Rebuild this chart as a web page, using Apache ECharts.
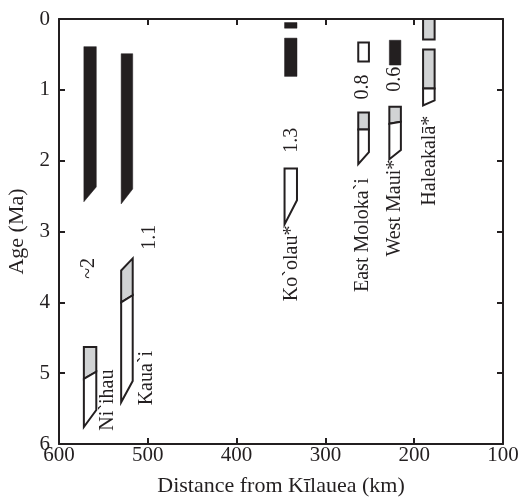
<!DOCTYPE html>
<html>
<head>
<meta charset="utf-8">
<script src="https://cdn.jsdelivr.net/npm/echarts@6/dist/echarts.min.js"></script>
<style>html,body{margin:0;padding:0;background:#fff;}#c{width:519px;height:499px;}</style>
</head>
<body>
<div id="c"></div>
<script>
// Volcanoes and their distance span (km from Kilauea)
const volcanoes = ['Ni`ihau', 'Kaua`i', 'Ko`olau*', 'East Moloka`i', 'West Maui*', 'Haleakalā*'];
const leftKm  = [572, 530, 346, 263, 228, 190];
const rightKm = [558, 517, 332, 251, 215, 177];

// Age segments: volcano index, top-left age, top-right age, bottom-left age, bottom-right age, fill
const segVolcano = [0, 0, 0, 1, 1, 1, 2, 2, 2, 3, 3, 3, 4, 4, 4, 5, 5, 5];
const segTopL = [0.39, 4.63, 5.08, 0.49, 3.55, 4.00, 0.05, 0.27, 2.11, 0.33, 1.32, 1.56, 0.30, 1.24, 1.48, 0.00, 0.43, 0.98];
const segTopR = [0.39, 4.63, 4.98, 0.49, 3.38, 3.90, 0.05, 0.27, 2.11, 0.33, 1.32, 1.56, 0.30, 1.24, 1.45, 0.00, 0.43, 0.98];
const segBotL = [2.58, 5.08, 5.76, 2.61, 4.00, 5.41, 0.13, 0.81, 2.90, 0.60, 1.56, 2.05, 0.65, 1.48, 1.98, 0.29, 0.98, 1.22];
const segBotR = [2.37, 4.98, 5.52, 2.40, 3.90, 5.11, 0.13, 0.81, 2.56, 0.60, 1.56, 1.88, 0.65, 1.45, 1.85, 0.29, 0.98, 1.15];
const segFill = ['black', 'gray', 'white', 'black', 'gray', 'white', 'black', 'black', 'white', 'white', 'gray', 'white', 'black', 'gray', 'white', 'gray', 'gray', 'white'];

// Annotations (text, anchor km, anchor age)
const noteText = ['~2', '1.1', 'Ni`ihau', 'Kaua`i', '1.3', 'Ko`olau*', 'East Moloka`i', '0.8', 'West Maui*', '0.6', 'Haleakalā*'];
const noteKm   = [567, 497.5, 545, 501, 337.6, 337.6, 257.7, 257.7, 221.6, 221.6, 182.2];
const noteAge  = [3.52, 3.08, 5.38, 5.07, 1.71, 3.45, 3.05, 0.96, 2.67, 0.85, 2.0];

// Axis tick values
const xTicks = [600, 500, 400, 300, 200, 100];
const yTicks = [0, 1, 2, 3, 4, 5, 6];

const INK = '#231f20';
const FONT = 'Liberation Serif';
const fills = { black: INK, gray: '#d1d3d4', white: '#ffffff' };

const chart = echarts.init(document.getElementById('c'), null, { renderer: 'canvas' });

const axisCommon = {
  axisLine: { show: true, onZero: false, lineStyle: { color: INK, width: 2 } },
  axisTick: { show: true, inside: true, length: 6, lineStyle: { color: INK, width: 2 } },
  splitLine: { show: false }
};

chart.setOption({
  animation: false,
  backgroundColor: '#fff',
  grid: { left: 59, right: 16, top: 19, bottom: 55, containLabel: false, outerBoundsMode: 'none' },
  xAxis: [
    Object.assign({
      type: 'value', position: 'bottom', min: xTicks[5], max: xTicks[0], interval: 100, inverse: true,
      name: 'Distance from Kīlauea (km)', nameLocation: 'middle', nameGap: 31,
      nameTextStyle: { fontFamily: FONT, fontSize: 22, color: INK },
      axisLabel: { fontFamily: FONT, fontSize: 21, color: INK, margin: 1 }
    }, axisCommon),
    Object.assign({
      type: 'value', position: 'top', min: xTicks[5], max: xTicks[0], interval: 100, inverse: true,
      axisLabel: { show: false }
    }, axisCommon)
  ],
  yAxis: [
    Object.assign({
      type: 'value', position: 'left', min: yTicks[0], max: yTicks[6], interval: 1, inverse: true,
      name: 'Age (Ma)', nameLocation: 'middle', nameGap: 26,
      nameTextStyle: { fontFamily: FONT, fontSize: 22, color: INK },
      axisLabel: { fontFamily: FONT, fontSize: 21, color: INK, margin: 9 }
    }, axisCommon),
    Object.assign({
      type: 'value', position: 'right', min: yTicks[0], max: yTicks[6], interval: 1, inverse: true,
      axisLabel: { show: false }
    }, axisCommon)
  ],
  series: [
    {
      type: 'custom',
      xAxisIndex: 0, yAxisIndex: 0,
      clip: false,
      data: segVolcano.map((v, i) => [leftKm[v], segTopL[i], rightKm[v], segBotR[i]]),
      renderItem: function (params, api) {
        const i = params.dataIndex;
        const v = segVolcano[i];
        const pts = [
          api.coord([leftKm[v], segTopL[i]]),
          api.coord([rightKm[v], segTopR[i]]),
          api.coord([rightKm[v], segBotR[i]]),
          api.coord([leftKm[v], segBotL[i]])
        ];
        const f = segFill[i];
        return {
          type: 'polygon',
          shape: { points: pts },
          style: f === 'black'
            ? { fill: INK, stroke: INK, lineWidth: 0.5 }
            : { fill: fills[f], stroke: INK, lineWidth: 2, lineJoin: 'miter' }
        };
      }
    },
    {
      type: 'custom',
      xAxisIndex: 0, yAxisIndex: 0,
      clip: false,
      data: noteText.map((t, i) => [noteKm[i], noteAge[i]]),
      renderItem: function (params, api) {
        const i = params.dataIndex;
        const p = api.coord([noteKm[i], noteAge[i]]);
        return {
          type: 'text',
          x: p[0], y: p[1],
          rotation: Math.PI / 2,
          style: {
            text: noteText[i],
            fontFamily: FONT, fontSize: 20, fill: INK,
            align: 'center', verticalAlign: 'middle'
          }
        };
      }
    }
  ]
});
</script>
</body>
</html>
